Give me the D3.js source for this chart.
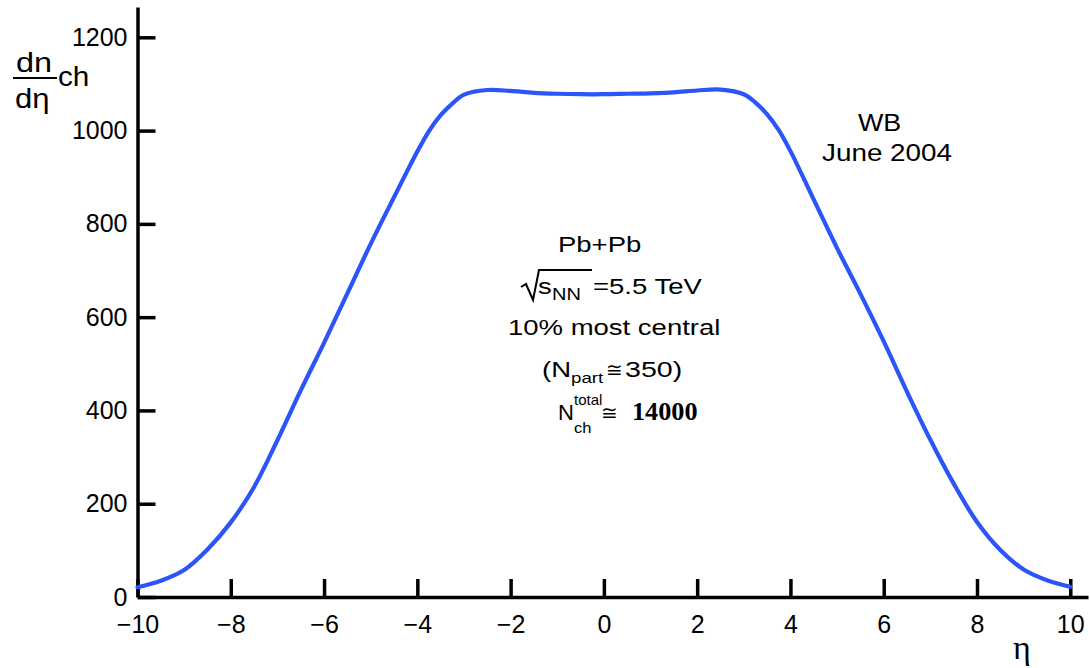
<!DOCTYPE html>
<html>
<head>
<meta charset="utf-8">
<script src="https://cdn.jsdelivr.net/npm/d3@7"></script>
<style>
  html, body { margin: 0; padding: 0; background: #fff; }
  svg { display: block; }
</style>
</head>
<body>
<svg id="chart" width="1090" height="668"></svg>
<script>
// ---- data ----
const eta = [-10, -9.5, -9, -8.5, -8, -7.5, -7, -6.5, -6, -5.5, -5, -4.5, -4, -3.75, -3.5, -3.25, -3,
             -2.5, -2, -1.5, -1, -0.5, 0, 0.5, 1, 1.5, 2, 2.5, 3, 3.25, 3.5, 3.75, 4,
             4.5, 5, 5.5, 6, 6.5, 7, 7.5, 8, 8.5, 9, 9.5, 10];
const dndeta = [21, 35, 58, 102, 160, 236, 336, 443, 545, 651, 757, 857, 955, 999, 1033, 1058, 1077,
                1087, 1085, 1081, 1079, 1078, 1078, 1079, 1080, 1082, 1086, 1088, 1078, 1060, 1035, 1001, 956,
                852, 748, 650, 548, 440, 337, 243, 161, 101, 59, 36, 22];
const xTicks = [-10, -8, -6, -4, -2, 0, 2, 4, 6, 8, 10];
const yTicks = [0, 200, 400, 600, 800, 1000, 1200];
const xDomain = [-10, 10.38];
const yDomain = [0, 1265];

const SANS = '"Liberation Sans", Arial, Helvetica, sans-serif';
const SERIF = '"Liberation Serif", "Times New Roman", serif';

const svg = d3.select("#chart");
const x = d3.scaleLinear().domain(xDomain).range([137.5, 1088]);
const y = d3.scaleLinear().domain(yDomain).range([597, 7]);

// axes
const xAxis = d3.axisBottom(x).tickValues(xTicks).tickSizeInner(-18).tickSizeOuter(0).tickPadding(18)
  .tickFormat(d3.format("d"));
const yAxis = d3.axisLeft(y).tickValues(yTicks).tickSizeInner(-18).tickSizeOuter(0).tickPadding(10)
  .tickFormat(d3.format("d"));

const gx = svg.append("g").attr("transform", `translate(0,${y(0)})`).call(xAxis);
const gy = svg.append("g").attr("transform", `translate(${x(-10)},0)`).call(yAxis);
[gx, gy].forEach(g => {
  g.select(".domain").attr("stroke", "#000").attr("stroke-width", 3.5);
  g.selectAll(".tick line").attr("stroke", "#000").attr("stroke-width", 3.5);
  g.selectAll(".tick text").style("font-size", "25px").style("font-family", SANS).attr("fill", "#000");
});
gx.selectAll(".tick text").attr("dy", "0.71em");

// curve
const line = d3.line().x((d, i) => x(eta[i])).y(d => y(d)).curve(d3.curveCatmullRom.alpha(0.5));
svg.append("path").datum(dndeta).attr("d", line)
  .attr("fill", "none").attr("stroke", "#2b55f6").attr("stroke-width", 4.2)
  .attr("stroke-linejoin", "round").attr("stroke-linecap", "round");

// helper for stretched text pieces
function put(str, px, py, size, sx, opts = {}) {
  const t = svg.append("text")
    .attr("transform", `translate(${px},${py}) scale(${sx},1)`)
    .style("font-size", size + "px")
    .style("font-family", opts.family || SANS)
    .attr("fill", "#000")
    .text(str);
  if (opts.weight) t.style("font-weight", opts.weight);
  if (opts.anchor) t.attr("text-anchor", opts.anchor);
  return t;
}

// y label dn/deta ch
put("dn", 16, 72, 27, 1.2);
svg.append("line").attr("x1", 13).attr("x2", 57).attr("y1", 78).attr("y2", 78).attr("stroke", "#000").attr("stroke-width", 2);
put("dη", 15, 108, 27, 1.15);
put("ch", 58, 86, 27, 1.1);

// x label
put("η", 1022, 659, 34, 1, { family: SERIF, anchor: "middle" });

// WB June 2004
put("WB", 858, 131, 24, 1.12);
put("June 2004", 822, 161, 24, 1.16);

// central annotations
const S = 1.25;
put("Pb+Pb", 558, 252, 22, S);
svg.append("path").attr("d", "M521,287 L526,284 L533,300 L539,270 L592,270")
  .attr("fill", "none").attr("stroke", "#000").attr("stroke-width", 2);
put("s", 538, 294, 22, S);
put("NN", 552, 300, 16, 1.25);
put("=5.5 TeV", 593, 294, 22, S);
put("10% most central", 508, 335, 22, S);
put("(N", 542, 377, 22, S);
put("part", 571, 383, 15, 1.25);
put("≅", 606, 377, 20, 1.0, { family: '"DejaVu Sans", sans-serif' });
put("350)", 625, 377, 22, 1.3);
put("N", 558, 420, 22, 1.0);
put("total", 574, 405, 15, 1.0);
put("ch", 574, 433, 15, 1.1);
put("≅", 601, 420, 20, 1.0, { family: '"DejaVu Sans", sans-serif' });
put("14000", 632, 420, 25, 1.05, { family: SERIF, weight: "bold" });
</script>
</body>
</html>
